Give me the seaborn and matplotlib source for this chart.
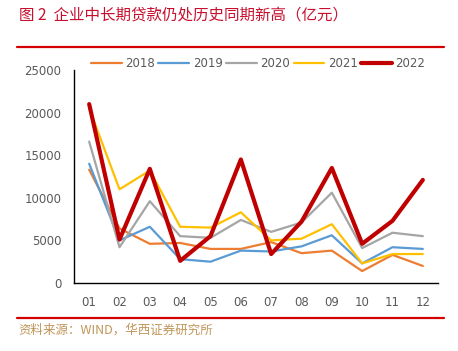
import matplotlib
matplotlib.use("Agg")
import matplotlib.pyplot as plt
import seaborn as sns
from matplotlib.ticker import FixedLocator

# monthly mid/long-term corporate loans (100m yuan)
months = ['01', '02', '03', '04', '05', '06', '07', '08', '09', '10', '11', '12']
years = ['2018', '2019', '2020', '2021', '2022']
v2018 = [13300, 6400, 4600, 4700, 4000, 4000, 4800, 3500, 3800, 1400, 3300, 2000]
v2019 = [14000, 5000, 6600, 2800, 2500, 3800, 3700, 4300, 5600, 2300, 4200, 4000]
v2020 = [16600, 4200, 9600, 5500, 5300, 7400, 6000, 7100, 10600, 4100, 5900, 5500]
v2021 = [20500, 11000, 13200, 6600, 6500, 8300, 5000, 5200, 6900, 2300, 3400, 3400]
v2022 = [21000, 5100, 13400, 2600, 5500, 14500, 3400, 7200, 13500, 4600, 7300, 12100]
yticks = [0, 5000, 10000, 15000, 20000, 25000]

series = [v2018, v2019, v2020, v2021, v2022]
colors = ['#ED7D31', '#5B9BD5', '#A5A5A5', '#FFC000', '#C00000']
widths = [1.6, 1.6, 1.6, 1.6, 3.0]

sns.set_style("white")
plt.rcParams['font.family'] = ['DejaVu Sans', 'Noto Sans CJK SC']
grey = '#595959'

fig = plt.figure(figsize=(4.58, 3.51), dpi=100)
ax = fig.add_axes([74 / 458, 1 - 283 / 351, 364 / 458, 213 / 351])

for yr, vals, c, lw in zip(years, series, colors, widths):
    sns.lineplot(x=months, y=vals, color=c, linewidth=lw, label=yr, ax=ax)

ax.set_xlim(-0.5, 11.5)
ax.set_ylim(0, 25000)
ax.set_yticks(yticks)
ax.set_yticklabels([str(t) for t in yticks], color=grey, fontsize=8.5)
ax.set_xticks(range(12))
ax.set_xticklabels(months, color=grey, fontsize=8.5)
ax.xaxis.set_minor_locator(FixedLocator([i - 0.5 for i in range(13)]))
ax.tick_params(axis='x', which='major', length=0, pad=9)
ax.tick_params(axis='x', which='minor', length=5, width=1, color='black', direction='out')
ax.tick_params(axis='y', length=3, width=1, color='black', direction='out', pad=6)
ax.set_xlabel('')
ax.set_ylabel('')
for s in ['top', 'right']:
    ax.spines[s].set_visible(False)
for s in ['left', 'bottom']:
    ax.spines[s].set_color('black')
    ax.spines[s].set_linewidth(1)

leg = ax.legend(loc='center', bbox_to_anchor=(0.506, 1.03), ncol=5, frameon=False,
                fontsize=8.5, handlelength=2.6, handletextpad=0.3, columnspacing=0.3,
                borderaxespad=0)
for t in leg.get_texts():
    t.set_color(grey)

# title, rules and source note
fig.text(19 / 458, 1 - 16 / 351, '图 2  企业中长期贷款仍处历史同期新高（亿元）',
         fontsize=11.2, color='#C8102E', va='center', ha='left',
         family=['Noto Sans CJK SC', 'DejaVu Sans'])
fig.add_artist(plt.Line2D([17 / 458, 444 / 458], [1 - 47 / 351, 1 - 47 / 351],
                          color='#D40000', linewidth=1.6))
fig.add_artist(plt.Line2D([17 / 458, 444 / 458], [1 - 318 / 351, 1 - 318 / 351],
                          color='#D40000', linewidth=1.6))
fig.text(18 / 458, 1 - 330 / 351, '资料来源：WIND，华西证券研究所',
         fontsize=9, color='#C0965A', va='center', ha='left',
         family=['Noto Sans CJK SC', 'DejaVu Sans'])

fig.savefig('out.png', dpi=100)
